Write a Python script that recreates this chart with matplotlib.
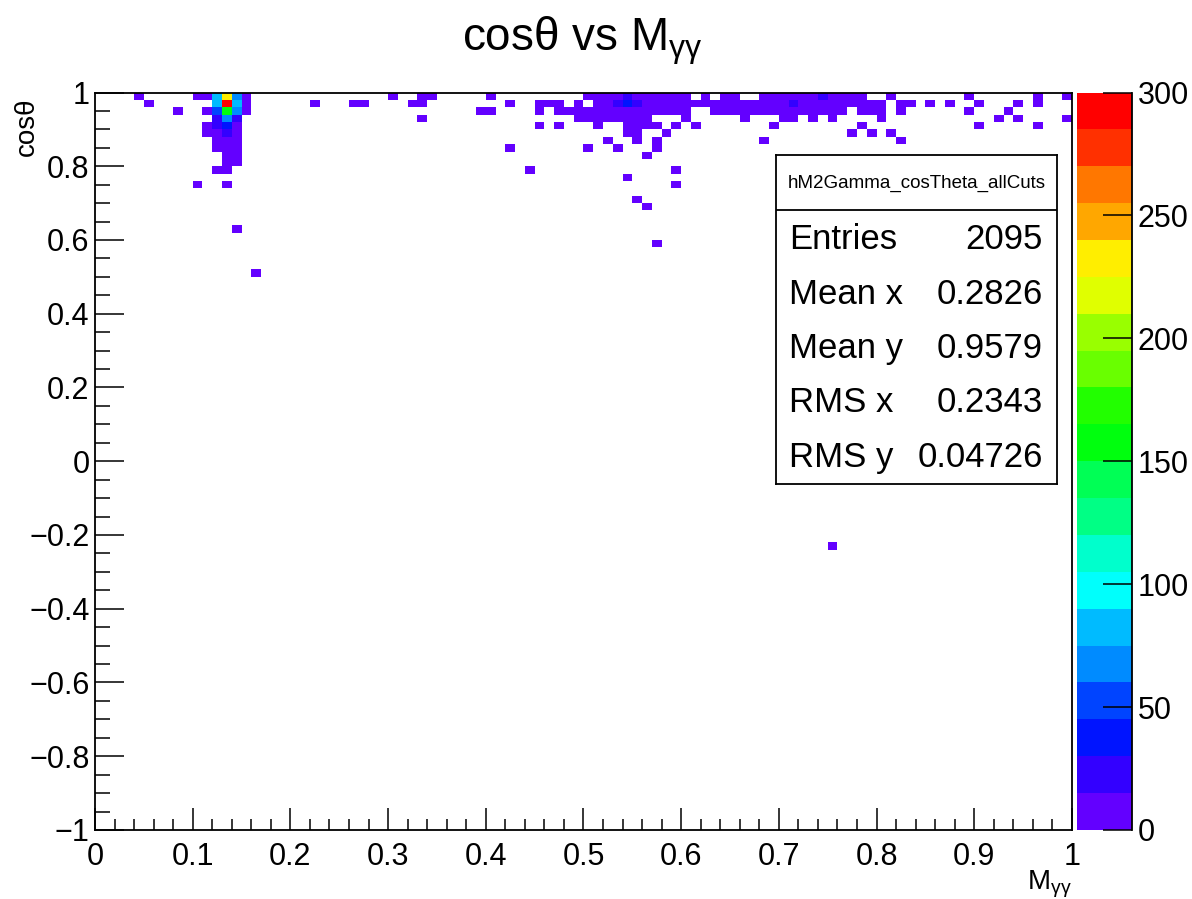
import colorsys
import numpy as np
import matplotlib
matplotlib.use("Agg")
import matplotlib.pyplot as plt
from matplotlib.colors import ListedColormap, BoundaryNorm
from matplotlib.ticker import MultipleLocator

plt.rcParams['font.family'] = ['Liberation Sans', 'DejaVu Sans']
plt.rcParams['mathtext.default'] = 'regular'

# cos(theta) bin centres that have entries, with the M_gg bin centres and counts in each
cos_rows = [0.99, 0.97, 0.95, 0.93, 0.91, 0.89, 0.87, 0.85, 0.83, 0.81,
            0.79, 0.77, 0.75, 0.71, 0.69, 0.63, 0.59, 0.51, -0.23]

m_099 = [0.045, 0.105, 0.115, 0.125, 0.135, 0.145, 0.155, 0.305, 0.335, 0.345, 0.405,
         0.505, 0.515, 0.525, 0.535, 0.545, 0.555, 0.565, 0.575, 0.585, 0.595, 0.605,
         0.625, 0.645, 0.655, 0.685, 0.695, 0.705, 0.715, 0.725, 0.735, 0.745,
         0.755, 0.765, 0.775, 0.785, 0.815, 0.895, 0.965, 0.995]
n_099 = [1, 2, 3, 82, 232, 68, 8, 1, 1, 1, 1,
         6, 8, 9, 11, 20, 12, 10, 9, 8, 6, 4,
         3, 3, 3, 4, 5, 5, 6, 6, 7, 16,
         8, 6, 5, 4, 2, 1, 1, 1]

m_097 = [0.055, 0.125, 0.135, 0.145, 0.155, 0.225, 0.265, 0.275, 0.325, 0.335, 0.425,
         0.455, 0.465, 0.475, 0.495,
         0.515, 0.525, 0.535, 0.545, 0.555, 0.565, 0.575, 0.585, 0.595, 0.605, 0.615, 0.625,
         0.635, 0.645, 0.655, 0.665, 0.675, 0.685, 0.695, 0.705, 0.715, 0.725, 0.735, 0.745,
         0.755, 0.765, 0.775, 0.785, 0.795, 0.805,
         0.825, 0.835, 0.855, 0.875, 0.905, 0.945, 0.965]
n_097 = [1, 80, 292, 78, 6, 1, 1, 1, 1, 1, 1,
         1, 2, 1, 2,
         5, 7, 16, 33, 17, 9, 8, 6, 5, 4, 3, 3,
         3, 4, 4, 5, 5, 6, 7, 8, 18, 8, 7, 6,
         5, 4, 3, 3, 2, 2,
         1, 1, 1, 1, 1, 1, 1]

m_095 = [0.085, 0.115, 0.125, 0.135, 0.145, 0.155, 0.395, 0.405, 0.455,
         0.475, 0.485, 0.495, 0.505, 0.515, 0.525, 0.535, 0.545, 0.555, 0.565, 0.575, 0.585, 0.595, 0.605,
         0.635, 0.645, 0.655, 0.665, 0.675, 0.685, 0.695, 0.705, 0.715, 0.725, 0.735, 0.745, 0.755, 0.765,
         0.785, 0.795, 0.805, 0.825, 0.895, 0.935]
n_095 = [1, 4, 50, 157, 66, 5, 1, 1, 1,
         1, 2, 2, 3, 4, 5, 6, 7, 6, 5, 4, 3, 2, 2,
         2, 2, 2, 2, 3, 3, 3, 4, 4, 3, 3, 2, 2, 2,
         1, 1, 1, 1, 1, 1]

m_093 = [0.125, 0.135, 0.145, 0.335, 0.495, 0.505, 0.515, 0.525, 0.535, 0.545, 0.555, 0.565, 0.605,
         0.665, 0.705, 0.715, 0.735, 0.755, 0.805, 0.925, 0.945, 0.995]
n_093 = [20, 64, 18, 1, 2, 3, 3, 4, 4, 3, 2, 2, 1,
         1, 1, 2, 1, 1, 1, 1, 1, 1]

m_091 = [0.115, 0.125, 0.135, 0.145, 0.455, 0.475, 0.515, 0.545, 0.555, 0.565, 0.575, 0.595, 0.615,
         0.695, 0.785, 0.905, 0.965]
n_091 = [3, 17, 35, 8, 1, 1, 1, 2, 3, 2, 1, 1, 1, 1, 1, 1, 1]

m_089 = [0.115, 0.125, 0.135, 0.145, 0.545, 0.555, 0.585, 0.775, 0.795, 0.815]
n_089 = [3, 6, 22, 6, 1, 2, 1, 1, 1, 1]

m_087 = [0.125, 0.135, 0.145, 0.525, 0.555, 0.575, 0.685, 0.825]
n_087 = [5, 8, 5, 1, 1, 1, 1, 1]

m_085 = [0.125, 0.135, 0.145, 0.425, 0.505, 0.535, 0.575]
n_085 = [4, 6, 4, 1, 1, 1, 1]

m_083 = [0.135, 0.145, 0.565]
n_083 = [4, 3, 1]
m_081 = [0.135, 0.145]
n_081 = [3, 3]
m_079 = [0.125, 0.135, 0.445, 0.595]
n_079 = [1, 2, 1, 1]
m_077 = [0.545]
n_077 = [1]
m_075 = [0.105, 0.135, 0.595]
n_075 = [1, 1, 1]
m_071 = [0.555]
n_071 = [1]
m_069 = [0.565]
n_069 = [1]
m_063 = [0.145]
n_063 = [1]
m_059 = [0.575]
n_059 = [1]
m_051 = [0.165]
n_051 = [1]
m_m023 = [0.755]
n_m023 = [1]

m_rows = [m_099, m_097, m_095, m_093, m_091, m_089, m_087, m_085, m_083, m_081,
          m_079, m_077, m_075, m_071, m_069, m_063, m_059, m_051, m_m023]
n_rows = [n_099, n_097, n_095, n_093, n_091, n_089, n_087, n_085, n_083, n_081,
          n_079, n_077, n_075, n_071, n_069, n_063, n_059, n_051, n_m023]

stat_names = ["Entries", "Mean x", "Mean y", "RMS x", "RMS y"]
stat_values = ["2095", "0.2826", "0.9579", "0.2343", "0.04726"]
cbar_ticks = [0, 50, 100, 150, 200, 250, 300]

# fill the 100x100 histogram
m_all = np.concatenate(m_rows)
cos_all = np.concatenate([np.full(len(m), c) for m, c in zip(m_rows, cos_rows)])
w_all = np.concatenate(n_rows)
H, xe, ye = np.histogram2d(m_all, cos_all, bins=[100, 100],
                           range=[[0, 1], [-1, 1]], weights=w_all)
H = np.ma.masked_equal(H, 0)

# old ROOT "pretty" palette (50 hues, violet -> red), 20 contours
palette = [colorsys.hls_to_rgb((280 - (k + 1) * 5.6) / 360, 0.5, 1.0) for k in range(50)]
levels = np.arange(0, 301, 15)
cols = [palette[int((i + 0.99) * 50 / 20)] for i in range(20)]
cmap = ListedColormap(cols)
norm = BoundaryNorm(levels, cmap.N)

fig = plt.figure(figsize=(11.92, 8.99), dpi=100)
ax = fig.add_axes([0.0797, 0.0768, 0.8196, 0.8203])
mesh = ax.pcolormesh(xe, ye, H.T, cmap=cmap, norm=norm)

ax.set_xlim(0, 1)
ax.set_ylim(-1, 1)
ax.xaxis.set_major_locator(MultipleLocator(0.1))
ax.xaxis.set_minor_locator(MultipleLocator(0.02))
ax.yaxis.set_major_locator(MultipleLocator(0.2))
ax.yaxis.set_minor_locator(MultipleLocator(0.05))
ax.xaxis.set_major_formatter(lambda v, p: "%g" % round(v, 2))
ax.yaxis.set_major_formatter(lambda v, p: ("%g" % round(v, 2)).replace("-", "\u2212"))
ax.tick_params(axis='x', which='major', direction='in', length=16, width=1.1,
               labelsize=22, pad=9, top=False)
ax.tick_params(axis='x', which='minor', direction='in', length=8, width=1.1, top=False)
ax.tick_params(axis='y', which='major', direction='in', length=21, width=1.1,
               labelsize=22, pad=4, right=False)
ax.tick_params(axis='y', which='minor', direction='in', length=11, width=1.1, right=False)
for s in ax.spines.values():
    s.set_linewidth(1.3)

# colour scale
cax = fig.add_axes([0.9035, 0.0768, 0.0461, 0.8203])
cb = fig.colorbar(mesh, cax=cax, ticks=cbar_ticks)
cb.outline.set_visible(False)
cax.spines['right'].set_visible(True)
cax.spines['right'].set_linewidth(1.3)
cax.minorticks_off()
cax.tick_params(axis='y', direction='in', length=21, width=1.1, labelsize=22, pad=4)

# titles
fig.text(0.489, 0.944, "cos\u03b8 vs M$_{\u03b3\u03b3}$", ha='center', va='baseline', fontsize=33)
fig.text(0.0227, 0.892, "cos\u03b8", rotation=90, ha='center', va='top', fontsize=20)
fig.text(0.8993, 0.0105, "M$_{\u03b3\u03b3}$", ha='right', va='baseline', fontsize=20)

# stats box
box = fig.add_axes([776 / 1192, (899 - 484) / 899, 281 / 1192, 329 / 899])
box.set_xticks([])
box.set_yticks([])
box.set_xlim(0, 1)
box.set_ylim(0, 1)
for s in box.spines.values():
    s.set_linewidth(1.3)
box.axhline(0.833, color='black', lw=1.3)
box.text(0.5, 0.915, "hM2Gamma_cosTheta_allCuts", ha='center', va='center', fontsize=13.5)
for i, (name, val) in enumerate(zip(stat_names, stat_values)):
    yy = 0.742 - i * 0.165
    box.text(0.046, yy, name, ha='left', va='center', fontsize=25)
    box.text(0.95, yy, val, ha='right', va='center', fontsize=25)

fig.savefig("out.png", dpi=100)
